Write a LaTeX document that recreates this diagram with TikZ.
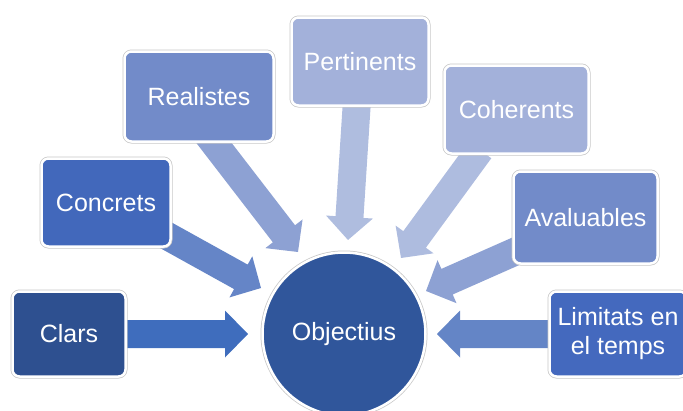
\documentclass[tikz,border=0pt]{standalone}
\usepackage{fontspec}
\setmainfont{Liberation Sans}
\usetikzlibrary{calc}
\definecolor{cClars}{HTML}{2E5090}
\definecolor{cConc}{HTML}{4268BB}
\definecolor{cReal}{HTML}{728BC9}
\definecolor{cPert}{HTML}{A3B1DA}
\definecolor{cCoh}{HTML}{A3B1DA}
\definecolor{cAval}{HTML}{728BC9}
\definecolor{cLim}{HTML}{4469BE}
\definecolor{cObj}{HTML}{30569B}
\definecolor{aClars}{HTML}{3F6DBD}
\definecolor{aConc}{HTML}{6585C7}
\definecolor{aReal}{HTML}{8DA1D3}
\definecolor{aPert}{HTML}{AFBDDF}
\definecolor{aCoh}{HTML}{AEBCDF}
\definecolor{aAval}{HTML}{8DA1D3}
\definecolor{aLim}{HTML}{6485C6}
\tikzset{
  lbl/.style={text=white, font=\fontsize{25}{29}\selectfont, align=center, inner sep=0pt},
  box/.style={lbl, rectangle, rounded corners=7pt, draw=white, line width=2.5pt,
    preaction={draw=black!22, line width=4pt}},
  hub/.style={lbl, circle, fill=cObj, draw=white, line width=2.5pt,
    preaction={draw=black!22, line width=4pt}, minimum size=163pt},
}
\newcommand\barrow[3]{%
  \fill[#1] let \p1=(#2), \p2=(#3),
    \n1={atan2(\y2-\y1,\x2-\x1)}, \n2={veclen(\x2-\x1,\y2-\y1)} in
    [shift={(\p1)}, rotate=\n1]
    (0pt,-14pt) -- ({\n2-23pt},-14pt) -- ({\n2-23pt},-23.5pt) -- ({\n2},0pt)
    -- ({\n2-23pt},23.5pt) -- ({\n2-23pt},14pt) -- (0pt,14pt) -- cycle;}
\begin{document}
\begin{tikzpicture}[x=1pt,y=-1pt]
\useasboundingbox (0,0) rectangle (683,410);
\clip (0,0) rectangle (683,410);
% arrow end points
\coordinate (sClars) at (125,334);
\coordinate (tClars) at (248,334);
\coordinate (sConc) at (160,232);
\coordinate (tConc) at (261,288);
\coordinate (sReal) at (204,130);
\coordinate (tReal) at (298,252);
\coordinate (sPert) at (357,100);
\coordinate (tPert) at (348,240);
\coordinate (sCoh) at (480,150);
\coordinate (tCoh) at (401,258);
\coordinate (sAval) at (530,245);
\coordinate (tAval) at (426,291);
\coordinate (sLim) at (550,334);
\coordinate (tLim) at (437,334);
% block arrows
\barrow{aClars}{sClars}{tClars}
\barrow{aConc}{sConc}{tConc}
\barrow{aReal}{sReal}{tReal}
\barrow{aPert}{sPert}{tPert}
\barrow{aCoh}{sCoh}{tCoh}
\barrow{aAval}{sAval}{tAval}
\barrow{aLim}{sLim}{tLim}
% boxes
\node[box, fill=cClars, minimum width=113pt, minimum height=85pt] (clars) at (69,334) {Clars};
\node[box, fill=cConc, minimum width=129pt, minimum height=88pt] (conc) at (106,202.5) {Concrets};
\node[box, fill=cReal, minimum width=149pt, minimum height=90pt] (real) at (199,96.5) {Realistes};
\node[box, fill=cPert, minimum width=137pt, minimum height=88pt] (pert) at (360,61.5) {Pertinents};
\node[box, fill=cCoh, minimum width=144pt, minimum height=88pt] (coh) at (516.5,109.5) {Coherents};
\node[box, fill=cAval, minimum width=144pt, minimum height=92pt] (aval) at (585.5,217.5) {Avaluables};
\node[box, fill=cLim, minimum width=137pt, minimum height=85pt] (lim) at (618,334) {Limitats en\\el temps};
% hub
\node[hub] (obj) at (344,334) {Objectius};
\end{tikzpicture}
\end{document}
